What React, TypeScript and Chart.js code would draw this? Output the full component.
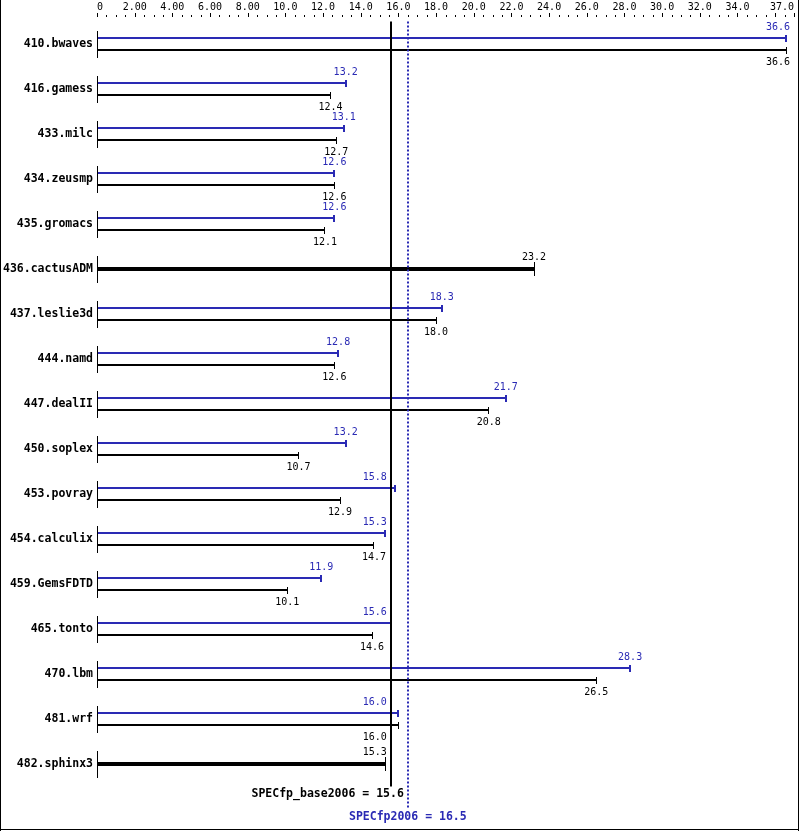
import React, { useEffect, useRef } from 'react';
import { Chart, registerables } from 'chart.js';

Chart.register(...registerables);

const benchmarks = [
  '410.bwaves', '416.gamess', '433.milc', '434.zeusmp', '435.gromacs', '436.cactusADM',
  '437.leslie3d', '444.namd', '447.dealII', '450.soplex', '453.povray', '454.calculix',
  '459.GemsFDTD', '465.tonto', '470.lbm', '481.wrf', '482.sphinx3',
];
const peakRatios: (number | null)[] = [
  36.6, 13.2, 13.1, 12.6, 12.6, null, 18.3, 12.8, 21.7, 13.2, 15.8, 15.3, 11.9, 15.6, 28.3, 16.0, null,
];
const baseRatios: (number | null)[] = [
  36.6, 12.4, 12.7, 12.6, 12.1, 23.2, 18.0, 12.6, 20.8, 10.7, 12.9, 14.7, 10.1, 14.6, 26.5, 16.0, 15.3,
];
const baseMean = 15.6;
const peakMean = 16.5;
const axisMin = 0;
const axisMax = 37;
const tickValues = [0, 2, 4, 6, 8, 10, 12, 14, 16, 18, 20, 22, 24, 26, 28, 30, 32, 34, 37];
const tickLabels = ['0', '2.00', '4.00', '6.00', '8.00', '10.0', '12.0', '14.0', '16.0', '18.0', '20.0',
  '22.0', '24.0', '26.0', '28.0', '30.0', '32.0', '34.0', '37.0'];
const majorStep = 2;
const minorStep = 0.5;
const baseMeanName = 'SPECfp_base2006';
const peakMeanName = 'SPECfp2006';

const BLUE = '#2a2ab4';
const BLACK = '#000000';
const MONO = '"DejaVu Sans Mono", "Liberation Mono", monospace';

const specPlugin = {
  id: 'specDecor',
  afterDatasetsDraw(chart: any) {
    const { ctx, chartArea, scales } = chart;
    const xs = scales.x;
    const ys = scales.y;
    const xBase = xs.getPixelForValue(baseMean);
    const xPeak = xs.getPixelForValue(peakMean);
    ctx.save();

    // left axis segments per benchmark
    ctx.fillStyle = BLACK;
    benchmarks.forEach((_, i) => {
      const py = ys.getPixelForValue(i);
      ctx.fillRect(Math.round(chartArea.left), Math.round(py - 13.5), 1, 27);
    });

    // caps and value labels
    ctx.font = `10px ${MONO}`;
    ctx.textBaseline = 'middle';
    ctx.textAlign = 'left';
    chart.data.datasets.forEach((ds: any, di: number) => {
      const meta = chart.getDatasetMeta(di);
      const isPeak = di === 0;
      meta.data.forEach((el: any, i: number) => {
        const v = ds.data[i];
        if (v === null || v === undefined) return;
        const { x, y, height } = el.getProps(['x', 'y', 'height'], true);
        const thick = height > 3;
        const half = thick ? 7 : 3.5;
        const cw = isPeak ? 2 : 1;
        ctx.fillStyle = ds.backgroundColor;
        ctx.fillRect(Math.round(x - cw / 2), Math.round(y - half), cw, Math.round(half * 2));

        const text = (v as number).toFixed(1);
        const w = ctx.measureText(text).width;
        let left = x - w / 2;
        let right = x + w / 2;
        if (left < xBase + 2 && right > xBase - 2) {
          right = xBase - 4;
          left = right - w;
        }
        if (right > chartArea.right - 4) {
          right = chartArea.right - 4;
          left = right - w;
        }
        const ty = isPeak ? y - 11 : thick ? y - 12 : y + 12;
        ctx.fillText(text, left, ty);
      });
    });

    // mean lines
    ctx.fillStyle = BLACK;
    ctx.fillRect(Math.round(xBase) - 1, chartArea.top, 2, chartArea.bottom - chartArea.top);

    ctx.strokeStyle = BLUE;
    ctx.lineWidth = 2;
    ctx.setLineDash([2, 2]);
    ctx.beginPath();
    ctx.moveTo(Math.round(xPeak), chartArea.top);
    ctx.lineTo(Math.round(xPeak), chartArea.bottom + 22);
    ctx.stroke();
    ctx.setLineDash([]);

    // mean labels
    ctx.font = `bold 11.5px ${MONO}`;
    ctx.fillStyle = BLACK;
    ctx.textAlign = 'right';
    ctx.fillText(`${baseMeanName} = ${baseMean.toFixed(1)}`, xPeak - 4, chartArea.bottom + 8);
    ctx.fillStyle = BLUE;
    ctx.textAlign = 'center';
    ctx.fillText(`${peakMeanName} = ${peakMean.toFixed(1)}`, xPeak, chartArea.bottom + 31);

    // top axis tick marks
    ctx.fillStyle = BLACK;
    for (let v = axisMin; v <= axisMax + 1e-9; v += minorStep) {
      const px = Math.round(xs.getPixelForValue(v));
      const major = Math.abs(v % majorStep) < 1e-9 || Math.abs(v - axisMax) < 1e-9;
      if (major) ctx.fillRect(px, 13, 1, 4);
      else ctx.fillRect(px, 15, 1, 2);
    }

    // frame
    const W = chart.width;
    const H = chart.height;
    ctx.fillRect(0, 0, 1, H);
    ctx.fillRect(W - 1, 0, 1, H);
    ctx.fillRect(0, H - 2, W, 1);

    ctx.restore();
  },
};

export default function App() {
  const ref = useRef<HTMLCanvasElement | null>(null);

  useEffect(() => {
    document.body.style.margin = '0';
    document.body.style.background = '#ffffff';
    const canvas = ref.current;
    if (!canvas) return;
    const chart = new Chart(canvas, {
      type: 'bar',
      data: {
        labels: benchmarks,
        datasets: [
          {
            label: 'Peak',
            data: peakRatios,
            backgroundColor: BLUE,
            borderWidth: 0,
            skipNull: true,
            categoryPercentage: 24 / 45,
            barPercentage: 1 / 6,
          } as any,
          {
            label: 'Base',
            data: baseRatios,
            backgroundColor: BLACK,
            borderWidth: 0,
            skipNull: true,
            categoryPercentage: 24 / 45,
            barPercentage: 1 / 6,
          } as any,
        ],
      },
      options: {
        indexAxis: 'y',
        responsive: false,
        animation: false,
        devicePixelRatio: 1,
        events: [],
        layout: { padding: { left: 0, right: 5, top: 0, bottom: 44.5 } },
        plugins: {
          legend: { display: false },
          tooltip: { enabled: false },
          title: { display: false },
        },
        scales: {
          x: {
            type: 'linear',
            position: 'top',
            min: axisMin,
            max: axisMax,
            grid: { display: false, drawTicks: false },
            border: { display: false },
            afterBuildTicks: (s: any) => {
              s.ticks = tickValues.map((v) => ({ value: v }));
            },
            ticks: {
              align: 'inner',
              maxRotation: 0,
              minRotation: 0,
              autoSkip: false,
              padding: 8,
              color: BLACK,
              font: { family: MONO, size: 10 },
              callback: (v: any) => {
                const idx = tickValues.indexOf(Number(v));
                return idx >= 0 ? tickLabels[idx] : '';
              },
            },
            afterFit: (s: any) => {
              s.height = 21.5;
              s.paddingLeft = 0;
              s.paddingRight = 0;
            },
          },
          y: {
            type: 'category',
            position: 'left',
            grid: { display: false, drawTicks: false },
            border: { display: false },
            ticks: {
              autoSkip: false,
              padding: 4,
              color: BLACK,
              font: { family: MONO, size: 11.5, weight: 'bold' },
            },
            afterFit: (s: any) => {
              s.width = 97;
              s.paddingTop = 0;
              s.paddingBottom = 0;
            },
          },
        },
      } as any,
      plugins: [specPlugin],
    });
    return () => chart.destroy();
  }, []);

  return (
    <div style={{ width: 799, height: 831, background: '#fff' }}>
      <canvas ref={ref} width={799} height={831} style={{ display: 'block' }} />
    </div>
  );
}
